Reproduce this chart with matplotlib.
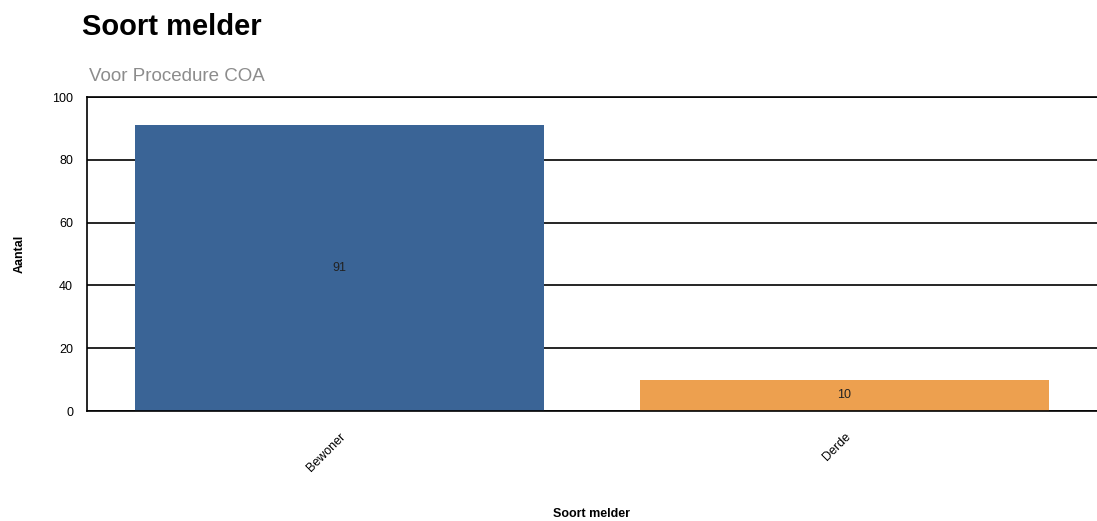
import matplotlib
matplotlib.use("Agg")
import matplotlib.pyplot as plt

categories = ["Bewoner", "Derde"]
counts = [91, 10]
colors = ["#3a6496", "#eda04f"]
yticks = [0, 20, 40, 60, 80, 100]

plt.rcParams["font.family"] = ["Liberation Sans", "DejaVu Sans"]

fig = plt.figure(figsize=(10.97, 5.21), dpi=100)
ax = fig.add_axes([0.0793, 0.2111, 0.9207, 0.6027])

x = range(len(categories))
bars = ax.bar(x, counts, width=0.81, color=colors, zorder=2)
for b, v in zip(bars, counts):
    ax.text(b.get_x() + b.get_width() / 2, v / 2, str(v), ha="center", va="center",
            fontsize=9, color="#222222", zorder=3)

ax.set_xlim(-0.5, 1.5)
ax.set_ylim(0, 100)
ax.set_yticks(yticks)
ax.set_xticks(list(x))
ax.set_xticklabels(categories, rotation=45, ha="right", rotation_mode="anchor", fontsize=8)
ax.tick_params(length=0, pad=10, labelsize=9)
ax.tick_params(axis="x", pad=14)
ax.grid(axis="y", color="black", lw=1.2, zorder=1)
for s in ["left", "bottom", "top"]:
    ax.spines[s].set_color("black")
    ax.spines[s].set_linewidth(1.2)
ax.spines["right"].set_visible(False)

ax.set_ylabel("Aantal", fontweight="bold", fontsize=9, labelpad=19)
ax.set_xlabel("Soort melder", fontweight="bold", fontsize=9, labelpad=25)

fig.text(0.075, 0.948, "Soort melder", fontsize=21, fontweight="bold", va="center", ha="left")
fig.text(0.081, 0.853, "Voor Procedure COA", fontsize=13.5, color="#8c8c8c", va="center", ha="left")

fig.savefig("out.png", dpi=100)
